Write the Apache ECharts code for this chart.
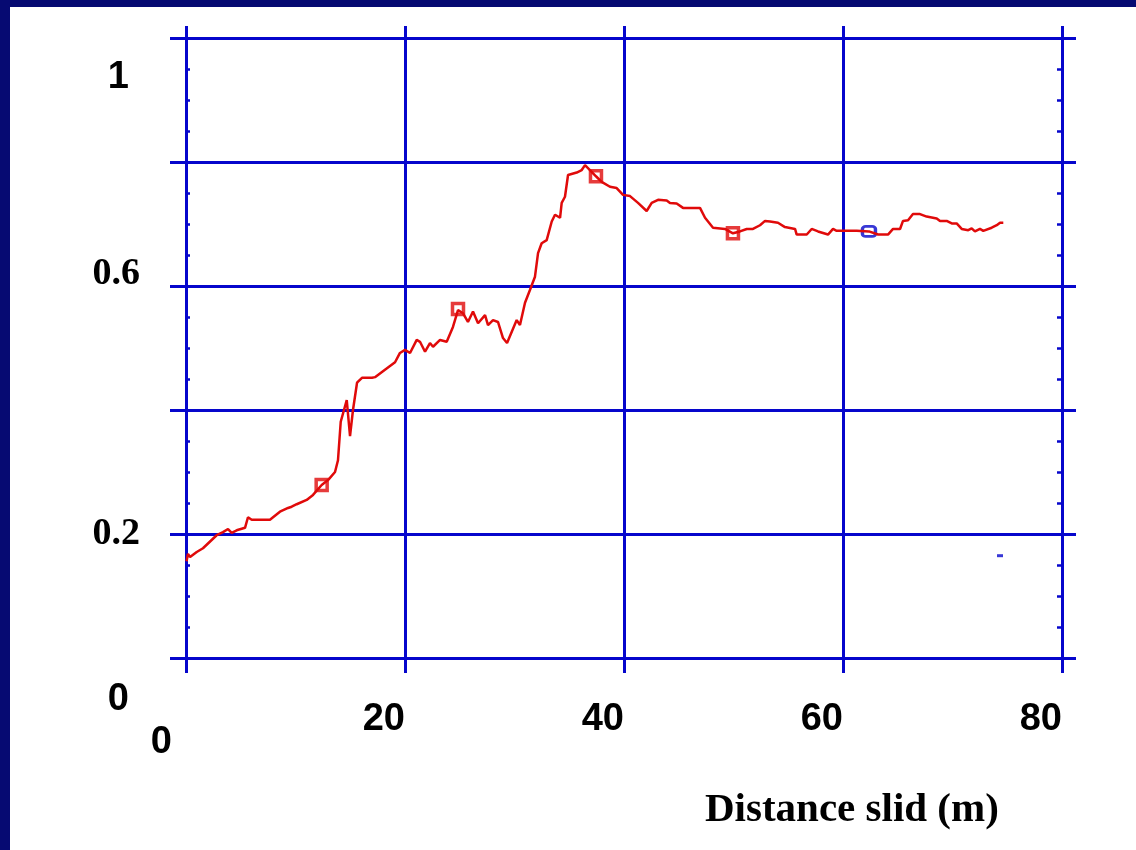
<!DOCTYPE html>
<html>
<head>
<meta charset="utf-8">
<script src="https://cdn.jsdelivr.net/npm/echarts@6/dist/echarts.min.js"></script>
<style>
  html, body { margin: 0; padding: 0; width: 1136px; height: 850px; background: #060a72; overflow: hidden; }
  #c { position: absolute; left: 10px; top: 7px; width: 1126px; height: 843px; background: #ffffff; }
</style>
</head>
<body>
<div id="c"></div>
<script>
// ---- data ----
const distance = [0.05, 0.18, 0.37, 0.98, 1.55, 2.80, 3.38, 3.84, 4.17, 4.63, 5.39, 5.66, 6.0, 7.67, 7.95, 8.58, 9.32, 9.65, 10.11, 11.02, 11.60, 12.39, 12.97, 13.61, 13.88, 14.13, 14.68, 14.79, 14.98, 15.11, 15.25, 15.62, 16.07, 16.99, 17.26, 18.17, 19.09, 19.54, 20.0, 20.46, 21.07, 21.37, 21.83, 22.28, 22.56, 23.20, 23.81, 24.38, 24.84, 25.30, 25.75, 26.21, 26.67, 27.31, 27.58, 28.04, 28.49, 28.95, 29.32, 30.20, 30.50, 30.96, 31.42, 31.87, 32.15, 32.48, 32.94, 33.40, 33.70, 34.16, 34.31, 34.61, 34.89, 35.68, 36.14, 36.44, 36.89, 37.44, 37.96, 38.72, 39.33, 39.91, 40.55, 41.28, 42.07, 42.53, 43.11, 43.90, 44.20, 44.81, 45.39, 46.94, 47.40, 48.13, 49.22, 49.95, 50.59, 51.21, 51.78, 52.42, 52.88, 53.33, 54.06, 54.70, 55.62, 55.77, 56.69, 57.14, 57.72, 58.63, 59.09, 59.42, 61.25, 62.37, 63.20, 64.11, 64.57, 65.21, 65.48, 65.94, 66.39, 67.03, 67.64, 68.56, 68.86, 69.47, 69.93, 70.38, 70.84, 71.44, 71.75, 72.05, 72.51, 72.81, 72.97, 73.58, 74.04, 74.34, 74.64];
const friction = [0.156, 0.168, 0.163, 0.171, 0.177, 0.198, 0.203, 0.208, 0.202, 0.206, 0.210, 0.227, 0.223, 0.223, 0.227, 0.236, 0.242, 0.244, 0.248, 0.255, 0.263, 0.279, 0.287, 0.300, 0.319, 0.381, 0.416, 0.419, 0.358, 0.358, 0.400, 0.444, 0.452, 0.452, 0.453, 0.465, 0.477, 0.492, 0.497, 0.492, 0.513, 0.510, 0.494, 0.508, 0.502, 0.513, 0.510, 0.534, 0.561, 0.556, 0.542, 0.559, 0.540, 0.553, 0.537, 0.545, 0.542, 0.516, 0.508, 0.545, 0.537, 0.573, 0.594, 0.615, 0.653, 0.669, 0.674, 0.704, 0.715, 0.710, 0.734, 0.744, 0.779, 0.783, 0.787, 0.795, 0.787, 0.777, 0.768, 0.760, 0.758, 0.747, 0.745, 0.734, 0.721, 0.734, 0.739, 0.738, 0.734, 0.733, 0.726, 0.726, 0.710, 0.694, 0.692, 0.685, 0.688, 0.692, 0.692, 0.698, 0.705, 0.704, 0.702, 0.695, 0.692, 0.683, 0.683, 0.692, 0.688, 0.683, 0.692, 0.689, 0.689, 0.688, 0.683, 0.683, 0.692, 0.692, 0.705, 0.706, 0.716, 0.716, 0.712, 0.709, 0.705, 0.705, 0.701, 0.701, 0.692, 0.690, 0.693, 0.688, 0.692, 0.689, 0.692, 0.694, 0.698, 0.702, 0.702];
const redMarkX = [12.39, 24.84, 37.44, 49.95];
const redMarkY = [0.279, 0.563, 0.777, 0.685];
const blueMarkX = [62.37];
const blueMarkY = [0.688];
const dashX = [74.34];
const dashY = [0.165];
const xTicks = [0, 20, 40, 60, 80];
const yLabelsSerif = ['0.6', '0.2'];
const yLabelsSans = ['1', '0'];
const xTitle = 'Distance slid (m)';

// ---- build ----
const BLUE = '#0606cc';
const RED = '#e00a0a';
const lineData = distance.map((x, i) => [x, friction[i]]);
const redData = redMarkX.map((x, i) => [x, redMarkY[i]]);
const blueData = blueMarkX.map((x, i) => [x, blueMarkY[i]]);
const dashData = dashX.map((x, i) => [x, dashY[i]]);
const near = (v, s) => Math.abs(v - parseFloat(s)) < 1e-6;
const sansLbl = { fontFamily: 'Liberation Sans, Arial, sans-serif', fontWeight: 'bold', fontSize: 38, color: '#000' };
const serifLbl = { fontFamily: 'Liberation Serif, Times New Roman, serif', fontWeight: 'bold', fontSize: 38, color: '#000' };
const yBase = { type: 'value', min: 0, max: 1, interval: 0.2, splitLine: { show: false } };
const xBase = { type: 'value', min: xTicks[0], max: xTicks[xTicks.length - 1], interval: 20, splitLine: { show: false } };
const hiddenX = (g) => Object.assign({}, xBase, { gridIndex: g, show: false });
// minor ticks: 0.05 steps, drawn outward from a 1px-wide helper grid that sits against the plot edge
const minorAxis = (g, pos) => Object.assign({}, yBase, {
  gridIndex: g, position: pos, interval: 0.05,
  axisLine: { show: false },
  axisTick: { show: true, inside: false, length: 5, lineStyle: { color: BLUE, width: 2.5 } },
  axisLabel: { show: false }
});

const chart = echarts.init(document.getElementById('c'), null, { renderer: 'canvas' });
chart.setOption({
  animation: false,
  backgroundColor: '#ffffff',
  title: {
    text: xTitle, left: 690, top: 778,
    textStyle: { fontFamily: 'Liberation Serif, Times New Roman, serif', fontWeight: 'bold', fontSize: 41, color: '#000' }
  },
  grid: [
    { left: 176, top: 31, right: 74, bottom: 192 },
    { left: 176, top: 71, right: 74, bottom: 150 },
    { left: 176, top: 19, right: 74, bottom: 204 },
    { left: 175, top: 31, width: 1, bottom: 192 },
    { left: 1052, top: 31, width: 1, bottom: 192 }
  ],
  xAxis: [
    Object.assign({}, xBase, {
      gridIndex: 0, position: 'bottom',
      axisLine: { show: true, onZero: false, lineStyle: { color: BLUE, width: 3 } },
      axisTick: { show: true, length: 15, lineStyle: { color: BLUE, width: 3 } },
      splitLine: { show: true, lineStyle: { color: BLUE, width: 3 } },
      axisLabel: Object.assign({}, sansLbl, { align: 'right', margin: 43,
        formatter: v => (v === 0 ? '' : String(v)) })
    }),
    Object.assign({}, xBase, {
      gridIndex: 0, position: 'bottom',
      axisLine: { show: false }, axisTick: { show: false },
      axisLabel: Object.assign({}, sansLbl, { align: 'right', margin: 66, padding: [0, 14, 0, 0],
        formatter: v => (v === 0 ? '0' : '') })
    }),
    Object.assign({}, xBase, {
      gridIndex: 0, position: 'top',
      axisLine: { show: true, onZero: false, lineStyle: { color: BLUE, width: 3 } },
      axisTick: { show: true, length: 12, lineStyle: { color: BLUE, width: 3 } },
      axisLabel: { show: false }
    }),
    hiddenX(1),
    hiddenX(2),
    hiddenX(3),
    hiddenX(4)
  ],
  yAxis: [
    Object.assign({}, yBase, {
      gridIndex: 0, position: 'left',
      axisLine: { show: true, onZero: false, lineStyle: { color: BLUE, width: 3 } },
      axisTick: { show: true, length: 16, lineStyle: { color: BLUE, width: 3 } },
      splitLine: { show: true, lineStyle: { color: BLUE, width: 3 } },
      axisLabel: Object.assign({}, serifLbl, { margin: 46,
        formatter: v => (near(v, yLabelsSerif[1]) ? yLabelsSerif[1] : '') })
    }),
    Object.assign({}, yBase, {
      gridIndex: 0, position: 'right',
      axisLine: { show: true, onZero: false, lineStyle: { color: BLUE, width: 3 } },
      axisTick: { show: true, length: 14, lineStyle: { color: BLUE, width: 3 } },
      axisLabel: { show: false }
    }),
    Object.assign({}, yBase, {
      gridIndex: 1, position: 'left',
      axisLine: { show: false }, axisTick: { show: false },
      axisLabel: Object.assign({}, sansLbl, { margin: 57,
        formatter: v => (near(v, yLabelsSans[0]) ? yLabelsSans[0] : (near(v, yLabelsSans[1]) ? yLabelsSans[1] : '')) })
    }),
    Object.assign({}, yBase, {
      gridIndex: 2, position: 'left',
      axisLine: { show: false }, axisTick: { show: false },
      axisLabel: Object.assign({}, serifLbl, { margin: 46,
        formatter: v => (near(v, yLabelsSerif[0]) ? yLabelsSerif[0] : '') })
    }),
    minorAxis(3, 'right'),
    minorAxis(4, 'left')
  ],
  series: [
    {
      type: 'line', xAxisIndex: 0, yAxisIndex: 0, data: lineData,
      showSymbol: false, symbol: 'none', smooth: false,
      lineStyle: { color: RED, width: 2.5 }
    },
    {
      type: 'scatter', xAxisIndex: 0, yAxisIndex: 0, data: redData,
      symbol: 'rect', symbolSize: [11, 11],
      itemStyle: { color: '#ffffff', borderColor: RED, borderWidth: 3.5 }
    },
    {
      type: 'scatter', xAxisIndex: 0, yAxisIndex: 0, data: blueData,
      symbol: 'roundRect', symbolSize: [13, 10],
      itemStyle: { color: '#ffffff', borderColor: BLUE, borderWidth: 3 }
    },
    {
      type: 'scatter', xAxisIndex: 0, yAxisIndex: 0, data: dashData,
      symbol: 'rect', symbolSize: [6, 3],
      itemStyle: { color: BLUE }
    }
  ]
});
</script>
</body>
</html>
